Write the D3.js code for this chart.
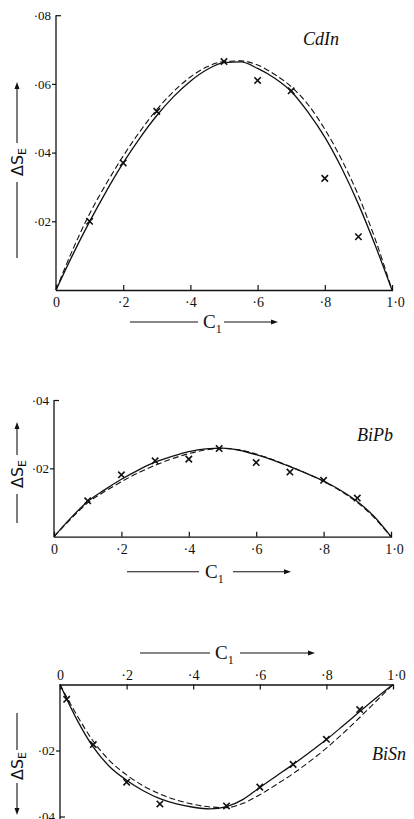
<!DOCTYPE html>
<html>
<head>
<meta charset="utf-8">
<script src="https://cdn.jsdelivr.net/npm/d3@7"></script>
<style>
  body { margin: 0; background: #fff; }
  svg { display: block; }
</style>
</head>
<body>
<div id="chart"></div>
<script>
// composition grid for the smooth curves
var cGrid = [0, .05, .1, .15, .2, .25, .3, .35, .4, .45, .5, .55, .6, .65, .7, .75, .8, .85, .9, .95, 1];

// CdIn
var cdInSolid  = [0, .0103, .0199, .0288, .0370, .0443, .0508, .0563, .0608, .0642, .0662, .0664, .0645, .0617, .0578, .0518, .0445, .0355, .0250, .0130, 0];
var cdInDashed = [0, .0118, .0222, .0310, .0390, .0462, .0525, .0578, .0620, .0650, .0665, .0667, .0655, .0628, .0592, .0540, .0468, .0380, .0275, .0148, 0];
var cdInPtC = [.1, .2, .3, .5, .6, .7, .8, .9];
var cdInPtS = [.020, .037, .052, .0665, .061, .058, .0325, .0155];

// BiPb
var biPbSolid  = [0, .0055, .0103, .0137, .0168, .0195, .0218, .0235, .0249, .0257, .0259, .0253, .0240, .0224, .0205, .0185, .0163, .0136, .0103, .0059, 0];
var biPbDashed = [0, .0052, .0099, .0132, .0161, .0187, .0209, .0228, .0243, .0254, .0258, .0254, .0242, .0225, .0206, .0185, .0162, .0134, .0100, .0056, 0];
var biPbPtC = [.1, .2, .3, .4, .49, .6, .7, .8, .9];
var biPbPtS = [.0105, .0181, .0222, .0227, .0258, .0217, .0189, .0165, .0113];

// BiSn (plotted downward)
var biSnSolid  = [0, .0105, .0190, .0250, .0290, .0322, .0346, .0362, .0372, .0377, .0370, .0348, .0312, .0277, .0242, .0205, .0167, .0125, .0082, .0040, 0];
var biSnDashed = [0, .0092, .0172, .0232, .0274, .0307, .0332, .0350, .0363, .0371, .0373, .0360, .0334, .0303, .0270, .0233, .0193, .0148, .0100, .0050, 0];
var biSnPtC = [.02, .1, .2, .3, .5, .6, .7, .8, .9];
var biSnPtS = [.0045, .0182, .0296, .0362, .0368, .0311, .0242, .0166, .0076];

var xTicks = [0, .2, .4, .6, .8, 1];
var xTickLabels = ["0", "·2", "·4", "·6", "·8", "1·0"];
var yTicksTop = [.02, .04, .06, .08];
var yTickLabelsTop = ["·02", "·04", "·06", "·08"];
var yTicksMid = [.02, .04];
var yTickLabelsMid = ["·02", "·04"];
var yTicksBot = [.02, .04];
var yTickLabelsBot = ["·02", "·04"];

var W = 414, H = 819;
var serif = "'Liberation Serif', 'DejaVu Serif', serif";
var sans = "'DejaVu Sans', 'Liberation Sans', sans-serif";

var svg = d3.select("#chart").append("svg")
  .attr("width", W).attr("height", H);
svg.append("rect").attr("width", W).attr("height", H).attr("fill", "#fff");

var panels = [
  { name: "CdIn", solid: cdInSolid, dashed: cdInDashed, ptC: cdInPtC, ptS: cdInPtS,
    xr: [56, 392], yr: [290, 15.2], ymax: .08, yTicks: yTicksTop, yLabels: yTickLabelsTop,
    down: false, nameX: 303, nameY: 45,
    cl: { y: 322, l0: 130, l1: 198, cx: 203, r0: 224, r1: 278 },
    sl: { x: 17, cy: 162, top: 82, t0: 143, t1: 182, bot: 258, up: true } },
  { name: "BiPb", solid: biPbSolid, dashed: biPbDashed, ptC: biPbPtC, ptS: biPbPtS,
    xr: [54, 391], yr: [536.7, 400], ymax: .04, yTicks: yTicksMid, yLabels: yTickLabelsMid,
    down: false, nameX: 357, nameY: 441,
    cl: { y: 571.7, l0: 127, l1: 199, cx: 205, r0: 233, r1: 291 },
    sl: { x: 17, cy: 474, top: 422, t0: 455, t1: 494, bot: 523, up: true } },
  { name: "BiSn", solid: biSnSolid, dashed: biSnDashed, ptC: biSnPtC, ptS: biSnPtS,
    xr: [60, 393], yr: [684.5, 816.5], ymax: .04, yTicks: yTicksBot, yLabels: yTickLabelsBot,
    down: true, nameX: 372, nameY: 760,
    cl: { y: 653, l0: 140, l1: 210, cx: 215, r0: 240, r1: 315 },
    sl: { x: 17, cy: 766, top: 713, t0: 750, t1: 783, bot: 815, up: false } }
];

function arrowHead(g, x, y, dir) {
  // dir: "r" right, "u" up, "d" down
  var p;
  if (dir === "r") p = [[x, y], [x - 7, y - 2.5], [x - 7, y + 2.5]];
  else if (dir === "u") p = [[x, y], [x - 2.5, y + 7], [x + 2.5, y + 7]];
  else p = [[x, y], [x - 2.5, y - 7], [x + 2.5, y - 7]];
  g.append("path").attr("d", "M" + p.join("L") + "Z").attr("fill", "#111");
}

panels.forEach(function(p) {
  var g = svg.append("g");
  var x = d3.scaleLinear().domain([0, 1]).range(p.xr);
  var y = d3.scaleLinear().domain([0, p.ymax]).range(p.yr);

  // x axis
  var xa = (p.down ? d3.axisTop(x) : d3.axisBottom(x))
    .tickValues(xTicks)
    .tickSize(-5)
    .tickPadding(p.down ? 5 : 7)
    .tickFormat(function(d, i) { return xTickLabels[i]; });
  var gx = g.append("g").attr("transform", "translate(0," + p.yr[0] + ")").call(xa);
  gx.select(".domain").attr("stroke", "#111").attr("stroke-width", 1.3);
  gx.selectAll(".tick line").attr("stroke", "#111").attr("stroke-width", 1.2)
    .filter(function(d) { return d === 0 || d === 1; }).remove();
  gx.selectAll(".tick text").attr("font-family", serif).attr("font-size", 14).attr("fill", "#111")
    .attr("dx", function(d) { return d === 1 ? 3 : 0; });

  // y axis
  var ya = d3.axisLeft(y)
    .tickValues(p.yTicks)
    .tickSize(4)
    .tickPadding(1)
    .tickFormat(function(d, i) { return p.yLabels[i]; });
  var gy = g.append("g").attr("transform", "translate(" + p.xr[0] + ",0)").call(ya);
  gy.select(".domain").remove();
  gy.selectAll(".tick line").attr("stroke", "#111").attr("stroke-width", 1.2)
    .filter(function(d) { return d === p.ymax; }).attr("x2", 5);
  gy.selectAll(".tick text").attr("font-family", serif).attr("font-size", 13).attr("fill", "#111");
  g.append("line")
    .attr("x1", p.xr[0]).attr("x2", p.xr[0])
    .attr("y1", p.yr[0]).attr("y2", p.down ? H : p.yr[1])
    .attr("stroke", "#111").attr("stroke-width", 1.3);

  // curves
  var line = d3.line()
    .x(function(d) { return x(d[0]); })
    .y(function(d) { return y(d[1]); })
    .curve(d3.curveMonotoneX);
  g.append("path").datum(d3.zip(cGrid, p.solid))
    .attr("fill", "none").attr("stroke", "#111").attr("stroke-width", 1.3)
    .attr("d", line);
  g.append("path").datum(d3.zip(cGrid, p.dashed))
    .attr("fill", "none").attr("stroke", "#111").attr("stroke-width", 1.1)
    .attr("stroke-dasharray", "6,3")
    .attr("d", line);

  // crosses
  g.selectAll(".pt").data(d3.zip(p.ptC, p.ptS)).enter().append("path")
    .attr("transform", function(d) { return "translate(" + x(d[0]) + "," + y(d[1]) + ")"; })
    .attr("d", "M-3.2,-3.2L3.2,3.2M-3.2,3.2L3.2,-3.2")
    .attr("stroke", "#111").attr("stroke-width", 1.6).attr("fill", "none");

  // panel name
  g.append("text").attr("x", p.nameX).attr("y", p.nameY)
    .attr("font-family", serif).attr("font-style", "italic").attr("font-size", 18)
    .attr("fill", "#111").text(p.name);

  // C1 label with arrow
  var c = p.cl;
  g.append("line").attr("x1", c.l0).attr("x2", c.l1).attr("y1", c.y).attr("y2", c.y)
    .attr("stroke", "#111").attr("stroke-width", 1.1);
  g.append("line").attr("x1", c.r0).attr("x2", c.r1 - 5).attr("y1", c.y).attr("y2", c.y)
    .attr("stroke", "#111").attr("stroke-width", 1.1);
  arrowHead(g, c.r1, c.y, "r");
  var ct = g.append("text").attr("x", c.cx).attr("y", c.y + 6)
    .attr("font-family", serif).attr("font-size", 19).attr("fill", "#111");
  ct.append("tspan").text("C");
  ct.append("tspan").attr("font-size", 12).attr("dy", 5).text("1");

  // ΔS_E label with arrow
  var s = p.sl;
  g.append("line").attr("x1", s.x).attr("x2", s.x).attr("y1", s.top + (s.up ? 5 : 0)).attr("y2", s.t0)
    .attr("stroke", "#111").attr("stroke-width", 1.1);
  g.append("line").attr("x1", s.x).attr("x2", s.x).attr("y1", s.t1).attr("y2", s.bot - (s.up ? 0 : 5))
    .attr("stroke", "#111").attr("stroke-width", 1.1);
  if (s.up) arrowHead(g, s.x, s.top, "u"); else arrowHead(g, s.x, s.bot, "d");
  var st = g.append("text")
    .attr("transform", "translate(" + (s.x + 6) + "," + s.cy + ") rotate(-90)")
    .attr("text-anchor", "middle")
    .attr("font-family", sans).attr("font-size", 16).attr("fill", "#111");
  st.append("tspan").text("ΔS");
  st.append("tspan").attr("font-size", 11).attr("dy", 3).text("E");
});
</script>
</body>
</html>
